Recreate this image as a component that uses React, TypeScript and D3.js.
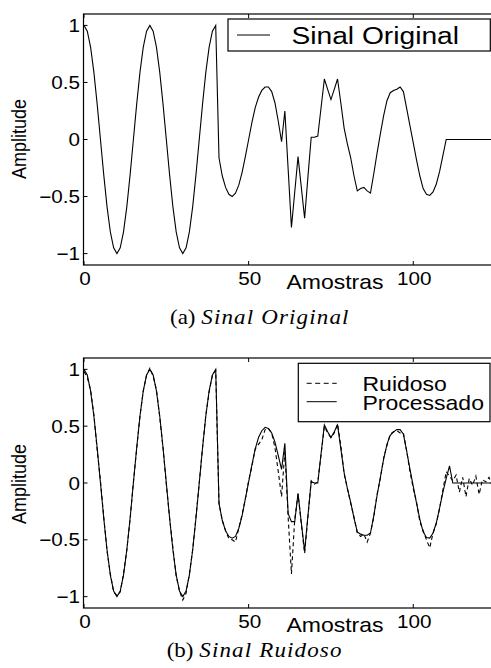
import React from 'react';
import * as d3 from 'd3';

// amostras 0..127, leitura aproximada da figura
const original = [
  1.0, 0.95, 0.81, 0.59, 0.31, 0.0, -0.31, -0.59, -0.81, -0.95,
  -1.0, -0.95, -0.81, -0.59, -0.31, 0.0, 0.31, 0.59, 0.81, 0.95,
  1.0, 0.95, 0.81, 0.59, 0.31, 0.0, -0.31, -0.59, -0.81, -0.95,
  -1.0, -0.95, -0.81, -0.59, -0.31, 0.0, 0.31, 0.59, 0.81, 0.95,
  1.0, -0.16, -0.32, -0.42, -0.48, -0.5, -0.47, -0.4, -0.29, -0.15,
  0.0, 0.15, 0.28, 0.37, 0.43, 0.46, 0.46, 0.42, 0.32, 0.16,
  -0.02, 0.25, -0.26, -0.77, -0.46, -0.15, -0.42, -0.69, -0.33, 0.02,
  0.02, 0.03, 0.28, 0.53, 0.44, 0.35, 0.44, 0.53, 0.32, 0.1,
  -0.04, -0.16, -0.32, -0.45, -0.43, -0.42, -0.45, -0.47, -0.3, -0.12,
  0.05, 0.21, 0.34, 0.41, 0.43, 0.44, 0.46, 0.42, 0.27, 0.12,
  -0.03, -0.18, -0.32, -0.43, -0.48, -0.49, -0.46, -0.39, -0.28, -0.14,
  0.0, 0.0, 0.0, 0.0, 0.0, 0.0, 0.0, 0.0, 0.0, 0.0,
  0.0, 0.0, 0.0, 0.0, 0.0, 0.0, 0.0, 0.0,
];

const noisy = [
  0.98, 0.93, 0.82, 0.6, 0.29, 0.02, -0.3, -0.6, -0.8, -0.96,
  -0.99, -0.96, -0.8, -0.59, -0.32, 0.01, 0.3, 0.59, 0.81, 0.95,
  1.01, 0.94, 0.82, 0.58, 0.31, -0.01, -0.31, -0.57, -0.82, -0.95,
  -1.03, -0.97, -0.8, -0.59, -0.3, 0.0, 0.31, 0.6, 0.8, 0.95,
  0.99, -0.18, -0.33, -0.42, -0.49, -0.5, -0.52, -0.4, -0.28, -0.14,
  0.02, 0.15, 0.3, 0.34, 0.38, 0.47, 0.48, 0.44, 0.31, 0.1,
  -0.12, 0.28, -0.3, -0.8, -0.32, -0.1, -0.36, -0.62, -0.3, 0.02,
  -0.01, 0.01, 0.25, 0.5, 0.44, 0.4, 0.44, 0.52, 0.33, 0.08,
  -0.05, -0.18, -0.3, -0.44, -0.47, -0.45, -0.52, -0.44, -0.3, -0.1,
  0.04, 0.22, 0.33, 0.43, 0.45, 0.46, 0.44, 0.44, 0.28, 0.1,
  -0.05, -0.17, -0.34, -0.42, -0.5, -0.57, -0.44, -0.36, -0.22, -0.06,
  0.1, 0.06, 0.02, 0.07, -0.08, 0.05, -0.12, 0.04, -0.02, 0.06,
  -0.1, 0.03, 0.01, 0.05, -0.03, 0.04, 0.02, 0.0,
];

const processed = [
  1.0, 0.95, 0.81, 0.59, 0.31, 0.0, -0.31, -0.59, -0.81, -0.95,
  -1.0, -0.95, -0.81, -0.59, -0.31, 0.0, 0.31, 0.59, 0.81, 0.95,
  1.0, 0.95, 0.81, 0.59, 0.31, 0.0, -0.31, -0.59, -0.81, -0.95,
  -1.0, -0.95, -0.81, -0.59, -0.31, 0.0, 0.31, 0.59, 0.81, 0.95,
  1.0, -0.18, -0.33, -0.42, -0.47, -0.485, -0.47, -0.4, -0.29, -0.14,
  0.01, 0.16, 0.3, 0.4, 0.46, 0.49, 0.48, 0.44, 0.36, 0.24,
  0.12, 0.35, -0.27, -0.34, -0.34, -0.09, -0.35, -0.6, -0.29, 0.01,
  0.0, 0.0, 0.26, 0.51, 0.45, 0.4, 0.45, 0.51, 0.3, 0.09,
  -0.05, -0.17, -0.31, -0.43, -0.45, -0.46, -0.46, -0.44, -0.29, -0.11,
  0.05, 0.21, 0.34, 0.42, 0.45, 0.47, 0.47, 0.43, 0.28, 0.12,
  -0.03, -0.18, -0.32, -0.43, -0.48, -0.485, -0.44, -0.35, -0.22, -0.08,
  0.04, 0.15, 0.0, 0.0, 0.0, 0.0, 0.0, 0.0, 0.0, 0.0,
  0.0, 0.0, 0.0, 0.0, 0.0, 0.0, 0.0, 0.0,
];

const yTicks = [-1, -0.5, 0, 0.5, 1];
const yTickLabels = ['\u22121', '\u22120.5', '0', '0.5', '1'];
const xTicks = [0, 50, 100];
const xTickLabels = ['0', '50', '100'];

const W = 491;
const H = 668;
const SX = 1.15; // a figura original esta esticada na horizontal
const SANS = 'Liberation Sans';
const SERIF = 'Liberation Serif';

const x = d3.scaleLinear().domain([0, 125]).range([84, 495.6]);

function Txt({ x, y, size, anchor = 'start', rotate = false, family = SANS, children }: any) {
  return (
    <text
      transform={`translate(${x},${y}) scale(${SX},1)${rotate ? ' rotate(-90)' : ''}`}
      fontFamily={family}
      fontSize={size}
      textAnchor={anchor}
      fill="#000"
    >
      {children}
    </text>
  );
}

function Panel({ top, bottom, series, legend, caption, captionX, captionY, labelY }: any) {
  const y = d3.scaleLinear().domain([-1.1, 1.1]).range([bottom, top]);
  const line = d3
    .line<number>()
    .x((_, i) => x(i))
    .y((d) => y(d));
  const left = 83.5;
  const right = x(125);
  const clipId = `clip${Math.round(top)}`;

  return (
    <g>
      <clipPath id={clipId}>
        <rect x={left} y={top} width={right - left} height={bottom - top} />
      </clipPath>
      <g clipPath={`url(#${clipId})`}>
        {series.map((s: any, i: number) => (
          <path
            key={i}
            d={line(s.values) || ''}
            fill="none"
            stroke="#000"
            strokeWidth={1.1}
            strokeDasharray={s.dash || null}
          />
        ))}
      </g>

      <rect x={left} y={top} width={right - left} height={bottom - top} fill="none" stroke="#000" strokeWidth={1.2} />

      {yTicks.map((t, i) => (
        <g key={'y' + i}>
          <line x1={left} x2={left + 4} y1={y(t)} y2={y(t)} stroke="#000" />
          <line x1={right - 4} x2={right} y1={y(t)} y2={y(t)} stroke="#000" />
          <Txt x={80} y={y(t) + 6.5} size={18} anchor="end">
            {yTickLabels[i]}
          </Txt>
        </g>
      ))}
      {xTicks.map((t, i) => (
        <g key={'x' + i}>
          <line x1={x(t)} x2={x(t)} y1={bottom} y2={bottom - 4} stroke="#000" />
          <line x1={x(t)} x2={x(t)} y1={top} y2={top + 4} stroke="#000" />
          <Txt x={x(t) + 1} y={bottom + 19.5} size={18} anchor="middle">
            {xTickLabels[i]}
          </Txt>
        </g>
      ))}

      <Txt x={335} y={bottom + 23.5} size={20} anchor="middle">
        Amostras
      </Txt>
      <Txt x={26} y={labelY} size={18} anchor="middle" rotate>
        Amplitude
      </Txt>

      <rect
        x={legend.x0}
        y={legend.y0}
        width={legend.x1 - legend.x0}
        height={legend.y1 - legend.y0}
        fill="#fff"
        stroke="#000"
        strokeWidth={1.2}
      />
      {legend.items.map((it: any, i: number) => (
        <g key={'l' + i}>
          <line
            x1={legend.lx0}
            x2={legend.lx1}
            y1={it.ly}
            y2={it.ly}
            stroke="#000"
            strokeWidth={1}
            strokeDasharray={it.dash || null}
          />
          <Txt x={legend.tx} y={it.ty} size={legend.size}>
            {it.label}
          </Txt>
        </g>
      ))}

      <Txt x={captionX} y={captionY} size={20} family={SERIF}>
        {caption[0]}
        <tspan fontStyle="italic" letterSpacing={1}>
          {caption[1]}
        </tspan>
      </Txt>
    </g>
  );
}

export default function App() {
  return (
    <div style={{ position: 'fixed', left: 0, top: 0, background: '#fff' }}>
      <svg width={W} height={H} style={{ display: 'block' }}>
        <rect width={W} height={H} fill="#fff" />
        <Panel
          top={14}
          bottom={265}
          labelY={139}
          series={[{ values: original }]}
          legend={{
            x0: 228,
            y0: 19,
            x1: 490.3,
            y1: 51,
            lx0: 237,
            lx1: 270,
            tx: 291.5,
            size: 24.5,
            items: [{ label: 'Sinal Original', ly: 35, ty: 44 }],
          }}
          caption={['(a) ', 'Sinal Original']}
          captionX={170}
          captionY={324}
        />
        <Panel
          top={358}
          bottom={608}
          labelY={484}
          series={[{ values: noisy, dash: '4,3' }, { values: processed }]}
          legend={{
            x0: 298.3,
            y0: 363.3,
            x1: 490,
            y1: 421.7,
            lx0: 306.7,
            lx1: 336.7,
            tx: 362.5,
            size: 20,
            items: [
              { label: 'Ruidoso', ly: 383.3, ty: 391, dash: '5,3.5' },
              { label: 'Processado', ly: 401.7, ty: 410 },
            ],
          }}
          caption={['(b) ', 'Sinal Ruidoso']}
          captionX={166.7}
          captionY={657}
        />
      </svg>
    </div>
  );
}
